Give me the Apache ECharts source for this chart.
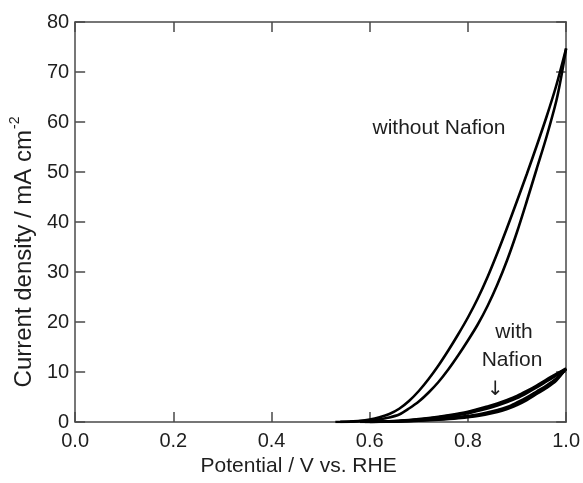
<!DOCTYPE html>
<html>
<head>
<meta charset="utf-8">
<script src="https://cdn.jsdelivr.net/npm/echarts@6/dist/echarts.min.js"></script>
<style>html,body{margin:0;padding:0;background:#fff}#c{width:583px;height:483px}</style>
</head>
<body>
<div id="c"></div>
<script>
// Tick labels
const xTicks = [0.0, 0.2, 0.4, 0.6, 0.8, 1.0];
const yTicks = [0, 10, 20, 30, 40, 50, 60, 70, 80];

// Without Nafion: upper-left branch and lower-right branch of the CV loop
const noNafionLeft = [[0.54,0],[0.56,0.08],[0.58,0.22],[0.60,0.5],[0.62,0.95],[0.64,1.6],[0.66,2.65],[0.68,4.2],[0.70,6.2],[0.72,8.6],[0.74,11.3],[0.76,14.3],[0.78,17.5],[0.80,20.9],[0.82,24.7],[0.84,29.0],[0.86,33.8],[0.88,38.9],[0.90,44.2],[0.92,49.6],[0.94,55.2],[0.96,61.0],[0.98,67.3],[1.0,74.7]];
const noNafionRight = [[0.53,0],[0.54,0.02],[0.56,0.07],[0.58,0.15],[0.60,0.3],[0.62,0.55],[0.64,0.9],[0.66,1.5],[0.68,2.7],[0.70,4.1],[0.72,5.9],[0.74,8.0],[0.76,10.5],[0.78,13.3],[0.80,16.3],[0.82,19.5],[0.84,23.2],[0.86,27.5],[0.88,32.4],[0.90,38.0],[0.92,44.2],[0.94,50.6],[0.96,57.0],[0.98,64.2],[0.99,69.0],[1.0,74.7]];

// With Nafion: three overlapping cycles (lower and upper branch each)
const nafion1Lower = [[0.58,0],[0.62,0.04],[0.66,0.12],[0.70,0.25],[0.74,0.45],[0.78,0.75],[0.82,1.2],[0.86,2.0],[0.88,2.6],[0.90,3.4],[0.92,4.4],[0.94,5.6],[0.96,6.8],[0.98,8.3],[1.0,10.7]];
const nafion1Upper = [[0.60,0],[0.64,0.15],[0.68,0.4],[0.72,0.8],[0.76,1.35],[0.80,2.05],[0.84,3.1],[0.86,3.7],[0.88,4.4],[0.90,5.2],[0.92,6.2],[0.94,7.3],[0.96,8.5],[0.98,9.6],[1.0,10.7]];
const nafion2Lower = [[0.59,0],[0.62,0.06],[0.66,0.18],[0.70,0.38],[0.74,0.62],[0.78,0.98],[0.82,1.5],[0.86,2.4],[0.88,3.0],[0.90,3.9],[0.92,4.9],[0.94,6.1],[0.96,7.3],[0.98,8.7],[1.0,10.6]];
const nafion2Upper = [[0.60,0],[0.64,0.1],[0.68,0.3],[0.72,0.62],[0.76,1.1],[0.80,1.75],[0.84,2.7],[0.86,3.3],[0.88,4.0],[0.90,4.8],[0.92,5.8],[0.94,6.9],[0.96,8.1],[0.98,9.3],[1.0,10.6]];
const nafion3Lower = [[0.59,0],[0.62,0.05],[0.66,0.15],[0.70,0.32],[0.74,0.55],[0.78,0.88],[0.82,1.35],[0.86,2.2],[0.88,2.8],[0.90,3.65],[0.92,4.65],[0.94,5.85],[0.96,7.05],[0.98,8.5],[1.0,10.65]];
const nafion3Upper = [[0.60,0],[0.64,0.12],[0.68,0.35],[0.72,0.7],[0.76,1.22],[0.80,1.9],[0.84,2.9],[0.86,3.5],[0.88,4.2],[0.90,5.0],[0.92,6.0],[0.94,7.1],[0.96,8.3],[0.98,9.45],[1.0,10.65]];

const FONT = '"Liberation Sans", Arial, sans-serif';
const AX = '#4a4a4a';
const TXT = '#1e1e1e';

const branches = [noNafionLeft, noNafionRight, nafion1Lower, nafion1Upper, nafion2Lower, nafion2Upper, nafion3Lower, nafion3Upper];

const chart = echarts.init(document.getElementById('c'));
const axisCommon = {
  axisLine: { show: true, onZero: false, lineStyle: { color: AX, width: 1.5 } },
  axisTick: { show: true, inside: true, length: 10, lineStyle: { color: AX, width: 1.5 } },
  splitLine: { show: false }
};
chart.setOption({
  animation: false,
  grid: { left: 70, right: 15, top: 22, bottom: 61 },
  xAxis: [
    Object.assign({
      type: 'value', min: xTicks[0], max: xTicks[xTicks.length-1], interval: 0.2, position: 'bottom',
      name: 'Potential / V vs. RHE', nameLocation: 'middle', nameGap: 34,
      nameTextStyle: { fontFamily: FONT, fontSize: 21, color: TXT, padding: [0, 44, 0, 0] },
      axisLabel: { fontFamily: FONT, fontSize: 20, color: TXT, margin: 9, formatter: v => v.toFixed(1) }
    }, axisCommon),
    Object.assign({
      type: 'value', min: xTicks[0], max: xTicks[xTicks.length-1], interval: 0.2, position: 'top',
      axisLabel: { show: false }
    }, axisCommon)
  ],
  yAxis: [
    Object.assign({
      type: 'value', min: yTicks[0], max: yTicks[yTicks.length-1], interval: 10, position: 'left',
      name: '{a|Current density / mA cm}{s|-2}', nameLocation: 'middle', nameGap: 36,
      nameTextStyle: { fontFamily: FONT, color: TXT, padding: [0, 60, 0, 0],
        rich: { a: { fontFamily: FONT, fontSize: 24, color: TXT, lineHeight: 28, verticalAlign: 'bottom' },
                s: { fontFamily: FONT, fontSize: 14, color: TXT, lineHeight: 28, verticalAlign: 'top', padding: [0,0,9,1] } } },
      axisLabel: { fontFamily: FONT, fontSize: 20, color: TXT, margin: 6 }
    }, axisCommon),
    Object.assign({
      type: 'value', min: yTicks[0], max: yTicks[yTicks.length-1], interval: 10, position: 'right',
      axisLabel: { show: false }
    }, axisCommon)
  ],
  series: branches.map(d => ({
    type: 'line', data: d, showSymbol: false, smooth: 0.3,
    lineStyle: { color: '#000', width: 2.6 }, clip: true, silent: true
  })),
  graphic: [
    { type: 'text', style: { text: 'without Nafion', x: 439, y: 128.5, align: 'center', verticalAlign: 'middle', font: '21px ' + FONT, fill: TXT } },
    { type: 'text', style: { text: 'with', x: 514, y: 332, align: 'center', verticalAlign: 'middle', font: '21px ' + FONT, fill: TXT } },
    { type: 'text', style: { text: 'Nafion', x: 512, y: 360.5, align: 'center', verticalAlign: 'middle', font: '21px ' + FONT, fill: TXT } },
    { type: 'text', style: { text: '↓', x: 495.5, y: 389.5, align: 'center', verticalAlign: 'middle', font: '20px "DejaVu Sans", sans-serif', fill: TXT } }
  ]
});
</script>
</body>
</html>
